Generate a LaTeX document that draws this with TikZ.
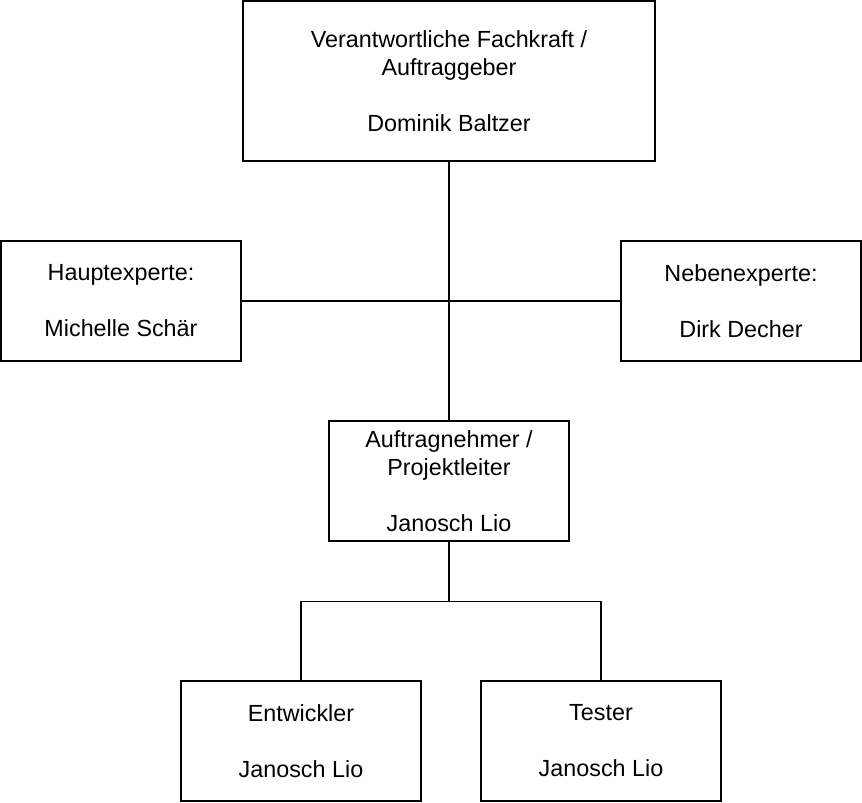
\documentclass[tikz,border=0pt]{standalone}
\usepackage{fontspec}
\setmainfont{Liberation Sans}
\usetikzlibrary{positioning}

\begin{document}
\begin{tikzpicture}[x=0.75pt, y=-0.75pt, line width=0.9pt,
    font=\fontsize{17.5}{21}\selectfont,
    box/.style={draw, align=center, inner sep=2pt, minimum width=180pt, minimum height=90pt},
    bigbox/.style={box, minimum width=309pt, minimum height=120pt}]
  \useasboundingbox (0,0) rectangle (862,802);

  \node[bigbox] (chef)    at (449, 81)  {Verantwortliche Fachkraft /\\Auftraggeber\\[21pt]Dominik Baltzer};
  \node[box]    (haupt)   at (121, 301) {Hauptexperte:\\[21pt]Michelle Schär};
  \node[box]    (neben)   at (741, 301) {Nebenexperte:\\[21pt]Dirk Decher};
  \node[box]    (auftrag) at (449, 481) {Auftragnehmer /\\Projektleiter\\[21pt]Janosch Lio};
  \node[box]    (entw)    at (301, 741) {Entwickler\\[21pt]Janosch Lio};
  \node[box]    (tester)  at (601, 741) {Tester\\[21pt]Janosch Lio};

  % Hierarchie oben
  \draw (chef.south) -- (auftrag.north);
  \draw (haupt.east) -- (neben.west);

  % Team unten
  \draw (auftrag.south) -- ++(0,60) coordinate (team);
  \draw (team) -| (entw.north);
  \draw (team) -| (tester.north);
\end{tikzpicture}
\end{document}
